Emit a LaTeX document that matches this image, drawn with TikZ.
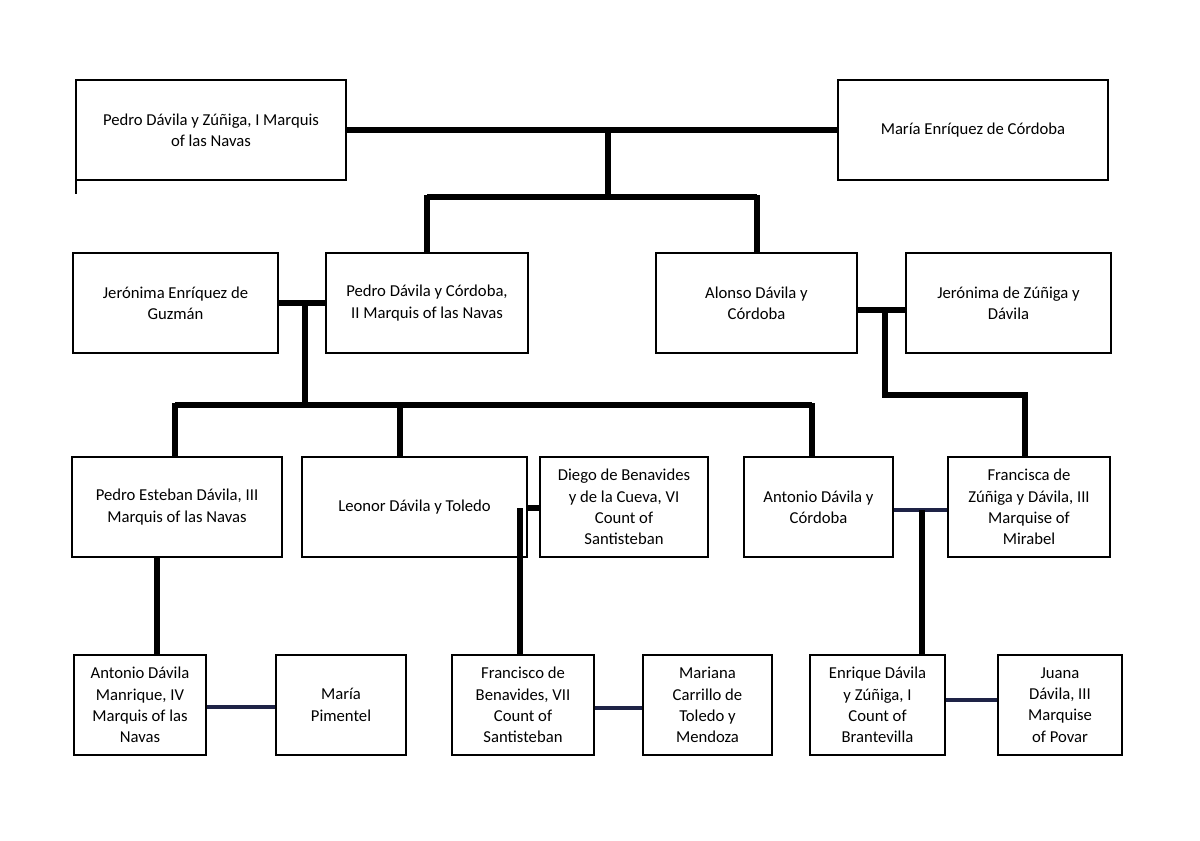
\documentclass[tikz,border=0pt]{standalone}
\usepackage{fontspec}
\setmainfont{Carlito}
\begin{document}
\begin{tikzpicture}[x=0.75pt,y=-0.75pt,
 box/.style={draw,line width=2.2pt,align=center,font=\fontsize{12.5}{16}\selectfont,inner sep=0pt},
 ln/.style={line width=4pt},
 nv/.style={line width=2.5pt,draw={rgb,255:red,30;green,35;blue,70}}]
\useasboundingbox (0,0) rectangle (1200,840);
\newcommand{\bx}[6]{\pgfmathsetmacro\bw{(#4-#2)*0.75}\pgfmathsetmacro\bh{(#5-#3)*0.75}%
\node[box,minimum width=\bw pt,minimum height=\bh pt] (#1) at ({(#2+#4)/2},{(#3+#5)/2}) {#6};}
\bx{a}{76}{80}{346}{180}{Pedro Dávila y Zúñiga, I Marquis\\of las Navas}
\bx{b}{838}{80}{1108}{180}{María Enríquez de Córdoba}
\bx{c}{73}{253}{278}{353}{Jerónima Enríquez de\\Guzmán}
\bx{d}{326}{253}{528}{353}{Pedro Dávila y Córdoba,\\II Marquis of las Navas}
\bx{e}{656}{253}{857}{353}{Alonso Dávila y\\Córdoba}
\bx{f}{906}{253}{1111}{353}{Jerónima de Zúñiga y\\Dávila}
\bx{g}{72}{457}{282}{557}{Pedro Esteban Dávila, III\\Marquis of las Navas}
\bx{h}{302}{457}{527}{557}{Leonor Dávila y Toledo}
\bx{i}{540}{457}{708}{557}{Diego de Benavides\\y de la Cueva, VI\\Count of\\Santisteban}
\bx{j}{744}{457}{893}{557}{Antonio Dávila y\\Córdoba}
\bx{k}{948}{457}{1110}{557}{Francisca de\\Zúñiga y Dávila, III\\Marquise of\\Mirabel}
\bx{l}{74}{655}{206}{755}{Antonio Dávila\\Manrique, IV\\Marquis of las\\Navas}
\bx{m}{276}{655}{406}{755}{María\\Pimentel}
\bx{n}{452}{655}{594}{755}{Francisco de\\Benavides, VII\\Count of\\Santisteban}
\bx{o}{643}{655}{772}{755}{Mariana\\Carrillo de\\Toledo y\\Mendoza}
\bx{p}{810}{655}{945}{755}{Enrique Dávila\\y Zúñiga, I\\Count of\\Brantevilla}
\bx{q}{998}{655}{1122}{755}{Juana\\Dávila, III\\Marquise\\of Povar}
\draw[line width=1pt] (76,180) -- (76,194);
\coordinate (m1) at (608,130);
\draw[ln] (a.east|-m1) -- (b.west|-m1);
\draw[ln] (m1) -- (608,197) (427,197) -- (757,197);
\draw[ln] (427,195) -- (d.north-|427,0) (757,195) -- (e.north-|757,0);
\draw[ln] (c.east|-0,303) -- (d.west|-0,303);
\draw[ln] (305,303) -- (305,405) (175,405) -- (812,405);
\draw[ln] (175,403) -- (g.north-|175,0) (400,403) -- (h.north-|400,0) (812,403) -- (j.north-|812,0);
\draw[ln] (e.east|-0,310) -- (f.west|-0,310);
\draw[ln] (885,310) -- (885,395) -- (1025,395) -- (k.north-|1025,0);
\draw[ln] (h.east|-0,508) -- (i.west|-0,508);
\draw[ln] (520,508) -- (n.north-|520,0);
\draw[nv] (j.east|-0,510) -- (k.west|-0,510);
\draw[ln] (922,510) -- (p.north-|922,0);
\draw[ln] (g.south-|157,0) -- (l.north-|157,0);
\draw[nv] (l.east|-0,707) -- (m.west|-0,707);
\draw[nv] (n.east|-0,708) -- (o.west|-0,708);
\draw[nv] (p.east|-0,700) -- (q.west|-0,700);
\end{tikzpicture}
\end{document}
